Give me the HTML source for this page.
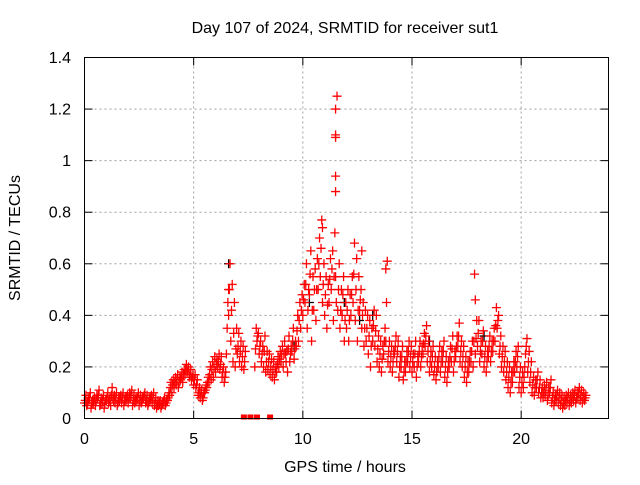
<!DOCTYPE html>
<html><head><meta charset="utf-8"><style>
body{margin:0;background:#fff;width:640px;height:480px;overflow:hidden}
svg text{font-family:"Liberation Sans",sans-serif;font-size:16px;fill:#000}
</style></head><body>
<svg id="chart" width="640" height="480" xmlns="http://www.w3.org/2000/svg">
<text x="345" y="33" text-anchor="middle">Day 107 of 2024, SRMTID for receiver sut1</text>
<text x="345" y="472" text-anchor="middle">GPS time / hours</text>
<text x="20" y="238" text-anchor="middle" transform="rotate(-90 20 238)">SRMTID / TECUs</text>
<g id="grid"></g>
<g id="marks"></g>
<rect x="84.5" y="57.5" width="524" height="361" fill="none" stroke="#000" stroke-width="1"/>
<g id="axes"></g>
</svg>
<script>
const xTicks=[0,5,10,15,20];
const yTicks=[0,0.2,0.4,0.6,0.8,1,1.2,1.4];
const yTickLabels=["0","0.2","0.4","0.6","0.8","1","1.2","1.4"];
const step=0.1;
const valsLow=[0.06,0.05,0.07,0.04,0.06,0.05,0.08,0.05,0.06,0.04,0.07,0.06,0.05,0.08,0.06,0.05,0.07,0.06,0.05,0.07,0.06,0.08,0.05,0.06,0.07,0.05,0.06,0.08,0.06,0.05,0.07,0.06,0.05,0.04,0.05,0.04,0.06,0.05,0.07,0.09,0.10,0.12,
0.13,0.12,0.15,0.14,0.17,0.18,0.16,0.15,
0.13,0.12,0.09,0.08,0.07,
0.10,0.12,0.14,0.15,0.16,0.18,0.20,0.19,0.16,0.14,
0.25,0.40,0.30,0.22,0.20,
0.25,0.22,0.20,0.19,null,null,null,null,
0.20,0.30,0.25,0.22,0.20,0.18,0.19,0.17,0.16,0.15,0.18,0.20,
0.22,0.20,0.25,0.18,0.22,0.26,0.23,0.28,0.30,0.35,
0.40,0.45,0.35,0.48,0.30,0.42,0.38,0.50,0.55,0.45,
0.40,0.35,0.45,0.50,0.38,0.55,0.42,0.35,0.40,0.30,
0.35,0.30,0.40,0.45,0.38,0.30,0.42,0.35,0.28,0.30,
0.25,0.20,0.30,0.28,0.22,0.20,0.18,0.25,0.30,0.22,
0.20,0.18,0.25,0.22,0.16,0.20,0.15,0.18,0.22,0.20,
0.18,0.20,0.16,0.22,0.20,0.25,0.28,0.22,0.18,0.20,
0.17,0.15,0.20,0.18,0.22,0.16,0.14,0.20,0.22,0.18,
0.24,0.28,0.22,0.20,0.16,0.14,0.18,0.22,0.20,0.25,
0.28,0.22,0.25,0.20,0.18,0.24,0.22,0.26,0.30,0.35,
0.25,0.20,0.18,0.15,0.12,0.10,0.14,0.18,0.20,0.12,
0.10,0.12,0.25,0.18,0.14,0.10,0.09,0.12,0.10,0.08,
0.08,0.09,0.07,0.10,0.06,0.05,0.07,0.06,0.05,0.04,
0.05,0.06,0.05,0.06,0.07,0.06,0.08,0.07,0.06,0.07];
const valsMid=[0.07,0.06,0.08,0.06,0.07,0.07,0.09,0.06,0.07,0.06,0.08,0.07,0.09,0.07,0.08,0.06,0.08,0.08,0.07,0.08,0.08,0.09,0.07,0.07,0.08,0.07,0.07,0.09,0.07,0.06,0.08,0.08,0.06,0.05,0.06,0.05,0.07,0.06,0.08,0.12,0.13,0.14,
0.15,0.14,0.16,0.17,0.19,0.19,0.17,0.16,
0.15,0.13,0.10,0.10,0.08,
0.11,0.14,0.17,0.19,0.20,0.21,0.22,0.21,0.18,0.16,
0.35,0.50,0.42,0.33,0.27,
0.28,0.26,0.24,0.22,null,null,null,null,
0.27,0.32,0.28,0.25,0.26,0.22,0.22,0.20,0.19,0.18,0.21,0.23,
0.25,0.25,0.22,0.27,0.25,0.30,0.27,0.34,0.38,0.42,
0.46,0.52,0.42,0.56,0.42,0.50,0.50,0.60,0.66,0.52,
0.48,0.44,0.54,0.58,0.55,0.45,0.50,0.42,0.48,0.38,
0.42,0.38,0.48,0.56,0.50,0.42,0.46,0.40,0.35,0.35,
0.32,0.28,0.36,0.34,0.27,0.25,0.23,0.30,0.45,0.26,
0.24,0.22,0.28,0.26,0.20,0.24,0.18,0.22,0.26,0.24,
0.22,0.25,0.20,0.26,0.24,0.29,0.32,0.26,0.22,0.24,
0.20,0.18,0.24,0.22,0.26,0.20,0.18,0.24,0.27,0.22,
0.28,0.32,0.26,0.24,0.20,0.18,0.22,0.26,0.30,0.31,
0.33,0.26,0.30,0.24,0.22,0.28,0.26,0.30,0.36,0.38,
0.28,0.24,0.22,0.18,0.16,0.14,0.18,0.22,0.24,0.16,
0.14,0.16,0.28,0.22,0.18,0.13,0.12,0.15,0.12,0.10,
0.10,0.11,0.09,0.12,0.08,0.07,0.09,0.08,0.07,0.06,
0.07,0.08,0.07,0.08,0.09,0.08,0.10,0.09,0.08,0.08];
const valsHigh=[0.09,0.08,0.10,0.07,0.08,0.09,0.11,0.08,0.09,0.07,0.10,0.08,0.12,0.09,0.10,0.08,0.09,0.10,0.08,0.09,0.10,0.11,0.09,0.08,0.10,0.09,0.08,0.10,0.09,0.08,0.09,0.10,0.08,0.07,0.07,0.06,0.08,0.07,0.10,0.14,0.15,0.16,
0.17,0.16,0.18,0.19,0.21,0.20,0.19,0.17,
0.17,0.15,0.12,0.11,0.10,
0.13,0.16,0.20,0.22,0.24,0.23,0.25,0.24,0.20,0.18,
0.45,0.60,0.52,0.45,0.35,
0.33,0.30,0.28,0.26,null,null,null,null,
0.35,0.33,0.30,0.28,0.32,0.26,0.25,0.23,0.22,0.20,0.24,0.26,
0.28,0.30,0.26,0.32,0.28,0.35,0.30,0.40,0.45,0.48,
0.52,0.60,0.50,0.65,0.55,0.58,0.62,0.70,0.77,0.60,
0.55,0.52,0.62,0.65,0.72,1.25,0.60,0.50,0.55,0.45,
0.50,0.48,0.55,0.68,0.62,0.55,0.50,0.45,0.42,0.40,
0.38,0.35,0.42,0.40,0.32,0.30,0.28,0.35,0.61,0.30,
0.28,0.26,0.32,0.30,0.24,0.28,0.22,0.26,0.30,0.28,
0.25,0.30,0.24,0.30,0.28,0.33,0.36,0.30,0.26,0.28,
0.24,0.22,0.28,0.26,0.30,0.24,0.22,0.28,0.32,0.26,
0.32,0.37,0.30,0.28,0.24,0.22,0.26,0.30,0.56,0.38,
0.38,0.30,0.34,0.28,0.26,0.32,0.30,0.35,0.43,0.40,
0.32,0.28,0.26,0.22,0.20,0.18,0.22,0.26,0.28,0.20,
0.18,0.20,0.31,0.26,0.22,0.16,0.15,0.18,0.15,0.12,
0.13,0.14,0.12,0.15,0.10,0.09,0.11,0.10,0.09,0.08,
0.09,0.10,0.09,0.10,0.11,0.10,0.12,0.11,0.10,0.09];
const extraTimes=[11.5,11.5,11.5,11.5,11.5,17.9,13.8,10.9,6.6,12.7];
const extraVals=[1.20,1.10,1.09,0.94,0.88,0.46,0.58,0.74,0.50,0.65];
const blackTimes=[6.6,10.3,11.9,12.6,15.8,9.6,13.2,18.3];
const blackVals=[0.60,0.45,0.45,0.38,0.30,0.28,0.40,0.32];
const zeroTimes=[7.3,7.6,7.9,8.5];

const X0=84.5,X1=608.5,Y0=418.5,Y1=57.5,XMAX=24,YMAX=1.4;
const sx=t=>X0+(X1-X0)*t/XMAX;
const sy=v=>Y0-(Y0-Y1)*v/YMAX;
const NS="http://www.w3.org/2000/svg";
const grid=document.getElementById('grid'),axes=document.getElementById('axes'),marks=document.getElementById('marks');
function mk(tag,attrs,parent){const e=document.createElementNS(NS,tag);for(const k in attrs)e.setAttribute(k,attrs[k]);parent.appendChild(e);return e;}
yTicks.forEach((v,i)=>{
  const y=sy(v);
  if(v>0&&v<YMAX){const g=mk('line',{x1:X0,x2:X1,y1:y,y2:y,stroke:'#a0a0a0','stroke-dasharray':'2,3'},grid);
  
  }
  const t1=mk('line',{x1:X0,x2:X0+8,y1:y,y2:y,stroke:'#000'},axes);
  
  
  const t2=mk('line',{x1:X1,x2:X1-8,y1:y,y2:y,stroke:'#000'},axes);
  
  
  const l=mk('text',{x:71,y:y+5.5,'text-anchor':'end'},axes);l.textContent=yTickLabels[i];
  
  
});
xTicks.forEach(t=>{
  const x=sx(t);
  if(t>0){const g=mk('line',{x1:x,x2:x,y1:Y0,y2:Y1,stroke:'#a0a0a0','stroke-dasharray':'2,3'},grid);
  
  }
  const t1=mk('line',{x1:x,x2:x,y1:Y0,y2:Y0-8,stroke:'#000'},axes);
  
  
  const t2=mk('line',{x1:x,x2:x,y1:Y1,y2:Y1+8,stroke:'#000'},axes);
  
  
  const l=mk('text',{x:x,y:444,'text-anchor':'middle'},axes);l.textContent=String(t);
  
  
});
function plus(t,v,col){
  const x=sx(t),y=sy(v);
  const p=mk('path',{d:`M${x-4.5},${y}H${x+4.5}M${x},${y-4.5}V${y+4.5}`,stroke:col,'stroke-width':1.3,fill:'none'},marks);
  
  
}
blackTimes.forEach((t,i)=>plus(t,blackVals[i],'#000'));
valsLow.forEach((v,i)=>{if(v!==null)plus(i*step,v,'#f00');});
valsMid.forEach((v,i)=>{if(v!==null)plus(i*step+0.033,v,'#f00');});
valsHigh.forEach((v,i)=>{if(v!==null)plus(i*step+0.066,v,'#f00');});
extraTimes.forEach((t,i)=>plus(t,extraVals[i],'#f00'));
zeroTimes.forEach(t=>{
  const r=mk('rect',{x:sx(t)-3,y:Y0-4,width:6,height:5,fill:'#f00'},marks);
  
  
});
</script>
</body></html>
